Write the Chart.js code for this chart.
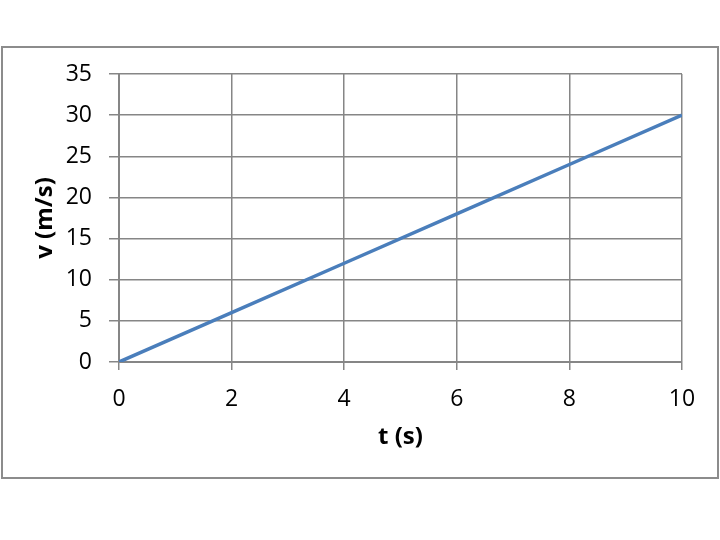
<!DOCTYPE html>
<html>
<head>
<meta charset="UTF-8">
<title>v-t chart</title>
<script src="https://cdn.jsdelivr.net/npm/chart.js"></script>
<style type="text/css">
	body { margin: 0; background: #fff; }
	#wrap { position: relative; width: 720px; height: 540px; }
	#frame {
		position: absolute; left: 1px; top: 46px;
		width: 714px; height: 429px;
		border: 2px solid #8c8c8c;
	}
	#myChart { position: absolute; left: 0; top: 0; }
</style>
</head>
<body>
<div id="wrap">
	<div id="frame"></div>
	<canvas id="myChart" width="720" height="540"></canvas>
</div>
<script>
	var times = [0, 2, 4, 6, 8, 10]; // t (s)
	var speeds = [0, 6, 12, 18, 24, 30]; // v (m/s)
	var xTicks = [0, 2, 4, 6, 8, 10];
	var yTicks = [0, 5, 10, 15, 20, 25, 30, 35];

	var points = times.map(function(t, i) { return {x: t, y: speeds[i]}; });
	var gridColor = '#868686';
	var tickFont = {family: 'Open Sans', size: 23};
	var titleFont = {family: 'Open Sans', size: 24, weight: 'bold'};

	var ctx = document.getElementById('myChart').getContext('2d');
	var myChart = new Chart(ctx, {
		type: 'scatter',
		data: {
			datasets: [{
				data: points,
				showLine: true,
				borderColor: '#4a7ebb',
				borderWidth: 3.5,
				pointRadius: 0,
				tension: 0
			}]
		},
		options: {
			responsive: false,
			animation: false,
			layout: { padding: {left: 0, top: 74, right: 38, bottom: 0} },
			plugins: { legend: {display: false}, tooltip: {enabled: false} },
			scales: {
				x: {
					type: 'linear', min: 0, max: 10,
					afterBuildTicks: function(s) { s.ticks = xTicks.map(function(v) { return {value: v}; }); },
					afterFit: function(s) { s.height = 178; },
					grid: { color: gridColor, lineWidth: 1.5, tickLength: 8, tickColor: gridColor },
					border: { color: gridColor, width: 2 },
					ticks: { font: tickFont, color: '#000', padding: 16, maxRotation: 0 },
					title: { display: true, text: 't (s)', font: titleFont, color: '#000', padding: {top: 0, bottom: 88} }
				},
				y: {
					type: 'linear', min: 0, max: 35,
					afterBuildTicks: function(s) { s.ticks = yTicks.map(function(v) { return {value: v}; }); },
					afterFit: function(s) { s.width = 119; },
					grid: { color: gridColor, lineWidth: 1.5, tickLength: 10, tickColor: gridColor },
					border: { color: gridColor, width: 2 },
					ticks: { font: tickFont, color: '#000', padding: 17 },
					title: { display: true, text: 'v (m/s)', font: titleFont, color: '#000', padding: {top: 31, bottom: 0} }
				}
			}
		}
	});
</script>
</body>
</html>
